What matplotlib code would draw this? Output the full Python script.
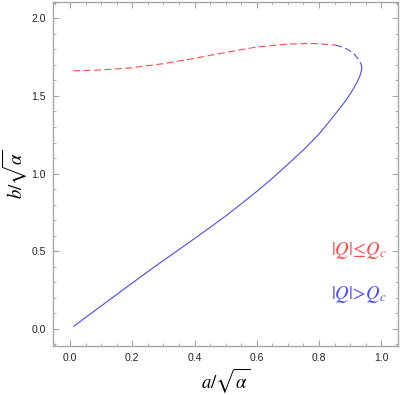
import matplotlib
matplotlib.use("Agg")
import matplotlib.pyplot as plt
from matplotlib.ticker import MultipleLocator

plt.rcParams['mathtext.fontset'] = 'stix'
plt.rcParams['font.family'] = ['Liberation Sans', 'DejaVu Sans']
plt.rcParams['lines.scale_dashes'] = False

# Red dashed branch (|Q| <= Qc)
red_a = [0.01, 0.1, 0.2, 0.3, 0.4, 0.5, 0.6, 0.7, 0.78, 0.852]
red_b = [1.662, 1.667, 1.682, 1.708, 1.742, 1.780, 1.815, 1.834, 1.838, 1.828]

# Blue dashed branch (|Q| > Qc, upper part)
bdash_a = [0.852, 0.88, 0.90, 0.915, 0.927, 0.934, 0.938]
bdash_b = [1.828, 1.812, 1.790, 1.765, 1.735, 1.710, 1.685]

# Blue solid branch (|Q| > Qc)
bsol_a = [0.938, 0.936, 0.933, 0.930, 0.925, 0.920, 0.910, 0.900, 0.885, 0.870,
          0.850, 0.825, 0.800, 0.775, 0.750, 0.700, 0.650, 0.600, 0.550, 0.500,
          0.450, 0.400, 0.350, 0.300, 0.250, 0.200, 0.150, 0.100, 0.050, 0.012]
bsol_b = [1.685, 1.658, 1.638, 1.622, 1.600, 1.580, 1.545, 1.512, 1.468, 1.428,
          1.378, 1.315, 1.255, 1.203, 1.153, 1.060, 0.970, 0.885, 0.805, 0.727,
          0.654, 0.582, 0.511, 0.441, 0.369, 0.296, 0.222, 0.148, 0.074, 0.017]

xticks = [0.0, 0.2, 0.4, 0.6, 0.8, 1.0]
yticks = [0.0, 0.5, 1.0, 1.5, 2.0]

red = '#ff4a4a'
blue = '#4a4aff'

fig = plt.figure(figsize=(4.0, 3.95), dpi=100)
ax = fig.add_axes([0.1325, 0.124, 0.8625, 0.871])

ax.plot(red_a, red_b, color=red, lw=0.8, dashes=(5, 2.5))
ax.plot(bdash_a, bdash_b, color=blue, lw=0.8, dashes=(5, 2.5))
ax.plot(bsol_a, bsol_b, color=blue, lw=0.8)

ax.set_xlim(-0.055, 1.054)
ax.set_ylim(-0.11, 2.105)
ax.set_xticks(xticks)
ax.set_yticks(yticks)
ax.set_xticklabels([f'{v:.1f}' for v in xticks])
ax.set_yticklabels([f'{v:.1f}' for v in yticks])
ax.xaxis.set_minor_locator(MultipleLocator(0.05))
ax.yaxis.set_minor_locator(MultipleLocator(0.1))

gray = '#a6a6a6'
for s in ax.spines.values():
    s.set_color(gray)
    s.set_linewidth(1.0)
ax.tick_params(which='both', direction='in', top=True, right=True, color=gray,
               labelsize=7.5, labelcolor='#222222')
ax.tick_params(which='major', length=4, width=0.8, pad=5)
ax.tick_params(which='minor', length=2.2, width=0.6)

ax.set_xlabel(r'$a/\sqrt{\alpha}$', fontsize=13.5, labelpad=2)
ax.set_ylabel(r'$b/\sqrt{\alpha}$', fontsize=13.5, labelpad=2)

ax.text(0.968, 0.279, r'$|Q|\!\leq\!Q_c$', transform=ax.transAxes, color=red,
        fontsize=13.5, ha='right', va='center')
ax.text(0.968, 0.150, r'$|Q|\!>\!Q_c$', transform=ax.transAxes, color=blue,
        fontsize=13.5, ha='right', va='center')

fig.savefig('out.png', dpi=100)
